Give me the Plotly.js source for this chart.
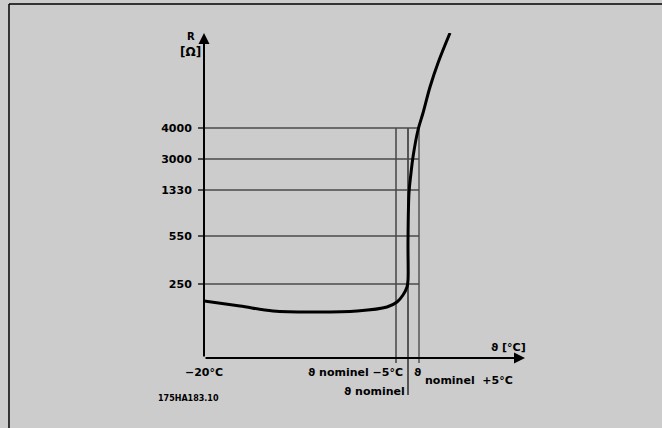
<!DOCTYPE html>
<html>
<head>
<meta charset="utf-8">
<script src="https://cdn.plot.ly/plotly-3.0.1.min.js"></script>
<style>html,body{margin:0;padding:0;background:#cccccc;}#chart{width:662px;height:428px;}</style>
</head>
<body>
<div id="chart"></div>
<script>
// Schematic resistance curve (units: schematic positions along each axis)
const yTickLabels = ['250', '550', '1330', '3000', '4000'];
const yTickPos = [74, 122, 168, 199, 230];
const xMarkLabels = ['\u221220\u00b0C', '\u03d1 nominel \u22125\u00b0C', '\u03d1 nominel', '\u03d1 nominel +5\u00b0C'];
const xMarkPos = [0, 192, 204, 215];
const curveX = [0, 36, 69, 113, 153, 183, 193, 199, 203, 204, 204, 205, 207, 209, 214, 219, 226, 234, 246];
const curveY = [57, 52, 47, 46, 47, 51, 56, 63, 71, 78, 115, 165, 185, 201, 228, 245, 271, 295, 325];
const xAxisEnd = 321;
const yAxisEnd = 325;

const font = 'DejaVu Sans, sans-serif';
const gridTop = yTickPos[yTickPos.length - 1];
const gridRight = xMarkPos[3];
// helpers converting axis units to paper fractions (for items outside the plot area)
const px = v => v / xAxisEnd;
const py = v => v / yAxisEnd;

const shapes = [];
yTickPos.forEach(v => shapes.push({type: 'line', xref: 'x', yref: 'y', x0: 0, x1: gridRight, y0: v, y1: v,
  line: {color: '#4a4a4a', width: 1.5}, layer: 'below'}));
const vStyles = [
  {color: '#000000', width: 1, bottom: -5},
  {color: '#555555', width: 2, bottom: -37},
  {color: '#555555', width: 1.5, bottom: -5}
];
[1, 2, 3].forEach((i, k) => shapes.push({type: 'line', xref: 'paper', yref: 'paper', x0: px(xMarkPos[i]), x1: px(xMarkPos[i]),
  y0: py(gridTop), y1: py(vStyles[k].bottom), line: {color: vStyles[k].color, width: vStyles[k].width}, layer: 'below'}));
// frame lines
shapes.push({type: 'line', xref: 'paper', yref: 'paper', x0: -0.6075, x1: -0.6075, y0: 1.0892, y1: -0.22, line: {color: '#000', width: 1.5}});
shapes.push({type: 'line', xref: 'paper', yref: 'paper', x0: -0.6075, x1: 1.43, y0: 1.0892, y1: 1.0892, line: {color: '#000', width: 1.5}});

const lf = {family: font, size: 11, color: '#000', weight: 'bold'};
const lab = (x, y, text, f, xa) => ({x: px(x), y: py(y), xref: 'paper', yref: 'paper', text: text, showarrow: false,
  font: f, xanchor: xa || 'center', yanchor: 'middle'});
const annotations = [
  // axis arrows
  {x: 0, y: yAxisEnd, ax: 0, ay: 0, axref: 'x', ayref: 'y', xref: 'x', yref: 'y', text: '', showarrow: true,
   arrowhead: 2, arrowsize: 1.1, arrowwidth: 2, arrowcolor: '#000'},
  {x: xAxisEnd, y: 0, ax: 0, ay: 0, axref: 'x', ayref: 'y', xref: 'x', yref: 'y', text: '', showarrow: true,
   arrowhead: 2, arrowsize: 1.1, arrowwidth: 2, arrowcolor: '#000'},
  lab(-13, 322, 'R', {family: font, size: 10, color: '#000', weight: 'bold'}),
  lab(-14, 306, '[\u03a9]', {family: font, size: 12, color: '#000', weight: 'bold'}),
  lab(304, 11, '\u03d1 [\u00b0C]', lf),
  lab(xMarkPos[0], -14, xMarkLabels[0], lf),
  lab(xMarkPos[1] + 9, -14, xMarkLabels[1], lf, 'right'),
  lab(xMarkPos[2] - 1, -33, xMarkLabels[2], lf, 'right'),
  lab(xMarkPos[3] - 2, -14, xMarkLabels[3].split(' ')[0], lf),
  lab(xMarkPos[3] + 4, -22, xMarkLabels[3].split(' ').slice(1).join('  '), lf, 'left'),
  lab(-16, -40, '175HA183.10', {family: font, size: 8, color: '#000', weight: 'bold'})
];

const trace = {x: curveX, y: curveY, type: 'scatter', mode: 'lines',
  line: {color: '#000', width: 3, shape: 'spline', smoothing: 1}, cliponaxis: false, hoverinfo: 'skip'};

const layout = {
  width: 662, height: 428,
  paper_bgcolor: '#cccccc', plot_bgcolor: '#cccccc',
  margin: {l: 204, r: 137, t: 33, b: 70},
  showlegend: false,
  xaxis: {range: [0, xAxisEnd], visible: false, fixedrange: true, zeroline: false, showgrid: false},
  yaxis: {range: [0, yAxisEnd], fixedrange: true, zeroline: false, showgrid: false, showline: false,
    tickmode: 'array', tickvals: yTickPos, ticktext: yTickLabels, ticks: 'outside', ticklen: 5,
    tickwidth: 1.5, tickcolor: '#4a4a4a', ticklabelstandoff: 4,
    tickfont: {family: font, size: 11, color: '#000', weight: 'bold'}},
  shapes: shapes,
  annotations: annotations
};

Plotly.newPlot('chart', [trace], layout, {displayModeBar: false, staticPlot: true});
</script>
</body>
</html>
